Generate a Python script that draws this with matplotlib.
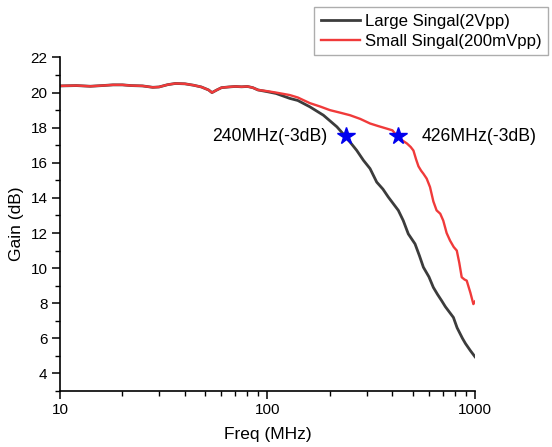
import matplotlib
matplotlib.use("Agg")
import matplotlib.pyplot as plt
from matplotlib.ticker import MultipleLocator, FixedLocator, LogLocator, NullFormatter

plt.rcParams['font.family'] = ['Liberation Sans', 'DejaVu Sans']

# Small signal (200mVpp) frequency response
freq_small = [10, 12, 14, 16, 18, 20, 22, 25, 28, 30, 33, 36, 40, 44, 48, 52, 54,
              57, 60, 65, 70, 75, 80, 85, 90, 100, 110, 120, 128, 140, 160, 180,
              200, 225, 250, 280, 312, 340, 375, 400, 426, 450, 470, 490, 505,
              520, 534, 550, 564, 585, 607, 630, 653, 680, 703, 730, 758, 790,
              817, 840, 863, 890, 912, 950, 982, 1000]
gain_small = [20.38, 20.40, 20.36, 20.40, 20.44, 20.44, 20.40, 20.38, 20.30, 20.32,
              20.45, 20.52, 20.50, 20.42, 20.32, 20.15, 20.00, 20.15, 20.28, 20.32,
              20.35, 20.33, 20.35, 20.28, 20.15, 20.08, 20.00, 19.92, 19.86, 19.72,
              19.40, 19.20, 19.00, 18.85, 18.71, 18.50, 18.24, 18.10, 17.95, 17.85,
              17.45, 17.25, 17.10, 16.90, 16.70, 16.20, 15.80, 15.55, 15.38, 15.10,
              14.62, 13.80, 13.29, 13.10, 12.71, 12.00, 11.57, 11.20, 11.00, 10.30,
              9.48, 9.35, 9.29, 8.60, 7.95, 8.10]

# Large signal (2Vpp)
freq_large = [10, 12, 14, 16, 18, 20, 22, 25, 28, 30, 33, 36, 40, 44, 48, 52, 54,
              57, 60, 65, 70, 75, 80, 85, 90, 100, 110, 128, 140, 160, 186, 216,
              240, 269, 290, 312, 336, 360, 382, 427, 451, 477, 514, 540, 564,
              600, 630, 660, 691, 720, 787, 820, 870, 900, 950, 1000]
gain_large = [20.38, 20.40, 20.36, 20.40, 20.44, 20.44, 20.40, 20.38, 20.30, 20.32,
              20.45, 20.52, 20.50, 20.42, 20.32, 20.15, 20.00, 20.15, 20.28, 20.32,
              20.35, 20.33, 20.35, 20.28, 20.15, 20.05, 19.95, 19.67, 19.55, 19.19,
              18.71, 18.05, 17.44, 16.71, 16.14, 15.67, 14.90, 14.50, 14.05, 13.29,
              12.71, 11.95, 11.38, 10.70, 10.05, 9.50, 8.90, 8.50, 8.14, 7.80,
              7.19, 6.60, 6.00, 5.70, 5.30, 4.95]

# -3dB points
f3db = [240, 426]
g3db = [17.5, 17.5]
f3db_labels = ['240MHz(-3dB)', '426MHz(-3dB)']

fig = plt.figure(figsize=(5.52, 4.47), dpi=100)
ax = fig.add_axes([0.1087, 0.1253, 0.7518, 0.7461])

ax.plot(freq_large, gain_large, color='#3c3c3c', lw=2.0, label='Large Singal(2Vpp)')
ax.plot(freq_small, gain_small, color='#f03a3a', lw=1.7, label='Small Singal(200mVpp)')
ax.plot(f3db, g3db, ls='none', marker='*', color='#0000ee', ms=13)

ax.annotate(f3db_labels[0], (f3db[0], g3db[0]), xytext=(-19, 0),
            textcoords='offset pixels', ha='right', va='center', fontsize=12.7)
ax.annotate(f3db_labels[1], (f3db[1], g3db[1]), xytext=(24, 0),
            textcoords='offset pixels', ha='left', va='center', fontsize=12.7)

ax.set_xscale('log')
ax.set_xlim(10, 1000)
ax.set_ylim(3, 22)
ax.xaxis.set_major_locator(FixedLocator([10, 100, 1000]))
ax.set_xticklabels(['10', '100', '1000'])
ax.xaxis.set_minor_locator(LogLocator(base=10, subs=range(2, 10)))
ax.xaxis.set_minor_formatter(NullFormatter())
ax.yaxis.set_major_locator(MultipleLocator(2))
ax.yaxis.set_minor_locator(MultipleLocator(1))
ax.set_yticks(range(4, 23, 2))

for s in ['top', 'right']:
    ax.spines[s].set_visible(False)
for s in ['left', 'bottom']:
    ax.spines[s].set_linewidth(1.2)

ax.tick_params(which='major', direction='out', length=6, width=1.1, labelsize=11, pad=3)
ax.tick_params(which='minor', direction='out', length=3.5, width=1.0)

ax.set_xlabel('Freq (MHz)', fontsize=12.5, labelpad=7)
ax.set_ylabel('Gain (dB)', fontsize=12.5, labelpad=5)

leg = ax.legend(loc='upper right', bbox_to_anchor=(548 / 552, 1 - 7 / 447),
                bbox_transform=fig.transFigure, fontsize=12.1, frameon=True,
                fancybox=False, borderaxespad=0, handlelength=2.3,
                handletextpad=0.3, borderpad=0.4, labelspacing=0.3)
leg.get_frame().set_edgecolor('#999999')
leg.get_frame().set_linewidth(1.0)

fig.savefig('out.png', dpi=100)
